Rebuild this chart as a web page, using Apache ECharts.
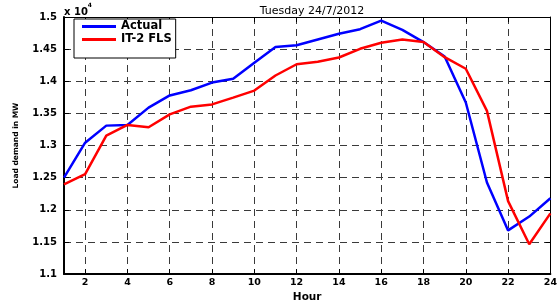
<!DOCTYPE html>
<html>
<head>
<meta charset="utf-8">
<script src="https://cdn.jsdelivr.net/npm/echarts@6/dist/echarts.min.js"></script>
<style>
    html, body { margin: 0; padding: 0; background: #fff; }
    #chart { width: 560px; height: 308px; }
</style>
</head>
<body>
<div id="chart"></div>
<script>
// hours of the day
const hours = ['1', '2', '3', '4', '5', '6', '7', '8', '9', '10', '11', '12',
    '13', '14', '15', '16', '17', '18', '19', '20', '21', '22', '23', '24'];
// load demand in MW
const actual = [12500, 13045, 13310, 13320, 13590, 13780, 13860, 13980, 14040, 14290, 14535, 14560,
    14650, 14740, 14810, 14945, 14800, 14610, 14385, 13670, 12425, 11680, 11895, 12180];
const it2fls = [12395, 12555, 13155, 13320, 13285, 13485, 13605, 13640, 13745, 13855, 14090, 14265,
    14305, 14370, 14505, 14600, 14650, 14610, 14375, 14195, 13540, 12135, 11465, 11945];

const font = 'DejaVu Sans';
const evenHour = (i) => i % 2 === 1;
const dash = { type: [7, 5], color: '#3a3a3a', width: 1 };

const myChart = echarts.init(document.getElementById('chart'));
myChart.setOption({
    backgroundColor: '#fff',
    animation: false,
    title: {
        text: 'Tuesday 24/7/2012',
        left: 307,
        textAlign: 'center',
        top: 1,
        textStyle: { fontFamily: font, fontSize: 11, fontWeight: 'normal', color: '#000' },
    },
    graphic: [{
        type: 'text',
        left: 64,
        top: 2,
        style: {
            text: '{a|x 10}{b|4}',
            rich: {
                a: { fontFamily: font, fontSize: 10, fontWeight: 'bold', fill: '#000', padding: [5, 0, 0, 0] },
                b: { fontFamily: font, fontSize: 6, fontWeight: 'bold', fill: '#000', verticalAlign: 'top' },
            },
        },
    }],
    legend: {
        orient: 'vertical',
        left: 74,
        top: 19,
        padding: [1, 4, 12, 8],
        itemGap: 0,
        itemWidth: 34,
        itemHeight: 3,
        icon: 'rect',
        backgroundColor: '#fff',
        borderColor: '#000',
        borderWidth: 1,
        textStyle: { fontFamily: font, fontSize: 11.5, fontWeight: 'bold', color: '#000', lineHeight: 13 },
        data: ['Actual', 'IT-2 FLS'],
    },
    grid: { left: 64, right: 8, top: 17, bottom: 22 },
    xAxis: [{
        type: 'category',
        data: hours,
        boundaryGap: false,
        position: 'bottom',
        name: 'Hour',
        nameLocation: 'middle',
        nameGap: 10,
        nameTextStyle: { fontFamily: font, fontSize: 10.5, fontWeight: 'bold', color: '#000' },
        axisLine: { lineStyle: { color: '#000', width: 2 } },
        axisTick: { inside: true, length: 5, interval: evenHour, lineStyle: { color: '#000' } },
        axisLabel: { interval: evenHour, margin: 3, fontFamily: font, fontSize: 9.5, fontWeight: 'bold', color: '#000' },
        splitLine: { show: true, interval: evenHour, lineStyle: dash },
    }, {
        type: 'category',
        data: hours,
        boundaryGap: false,
        position: 'top',
        axisLine: { lineStyle: { color: '#000', width: 1 } },
        axisTick: { inside: true, length: 5, interval: evenHour, lineStyle: { color: '#000' } },
        axisLabel: { show: false },
        splitLine: { show: false },
    }],
    yAxis: [{
        type: 'value',
        min: 11000,
        max: 15000,
        interval: 500,
        position: 'left',
        name: 'Load demand in MW',
        nameLocation: 'middle',
        nameGap: 44,
        nameTextStyle: { fontFamily: font, fontSize: 7.5, fontWeight: 'bold', color: '#000' },
        axisLine: { show: true, lineStyle: { color: '#000', width: 2 } },
        axisTick: { show: true, inside: true, length: 5, lineStyle: { color: '#000' } },
        axisLabel: {
            margin: 7,
            fontFamily: font, fontSize: 10, fontWeight: 'bold', color: '#000',
            formatter: (v) => String(+(v / 10000).toFixed(2)),
        },
        splitLine: { show: true, lineStyle: dash },
    }, {
        type: 'value',
        min: 11000,
        max: 15000,
        interval: 500,
        position: 'right',
        axisLine: { show: true, lineStyle: { color: '#000', width: 1 } },
        axisTick: { show: true, inside: true, length: 5, lineStyle: { color: '#000' } },
        axisLabel: { show: false },
        splitLine: { show: false },
    }],
    series: [{
        name: 'Actual',
        type: 'line',
        data: actual,
        symbol: 'none',
        color: '#0000ff',
        lineStyle: { width: 2.5, color: '#0000ff' },
    }, {
        name: 'IT-2 FLS',
        type: 'line',
        data: it2fls,
        symbol: 'none',
        color: '#ff0000',
        lineStyle: { width: 2.5, color: '#ff0000' },
    }],
});
</script>
</body>
</html>
